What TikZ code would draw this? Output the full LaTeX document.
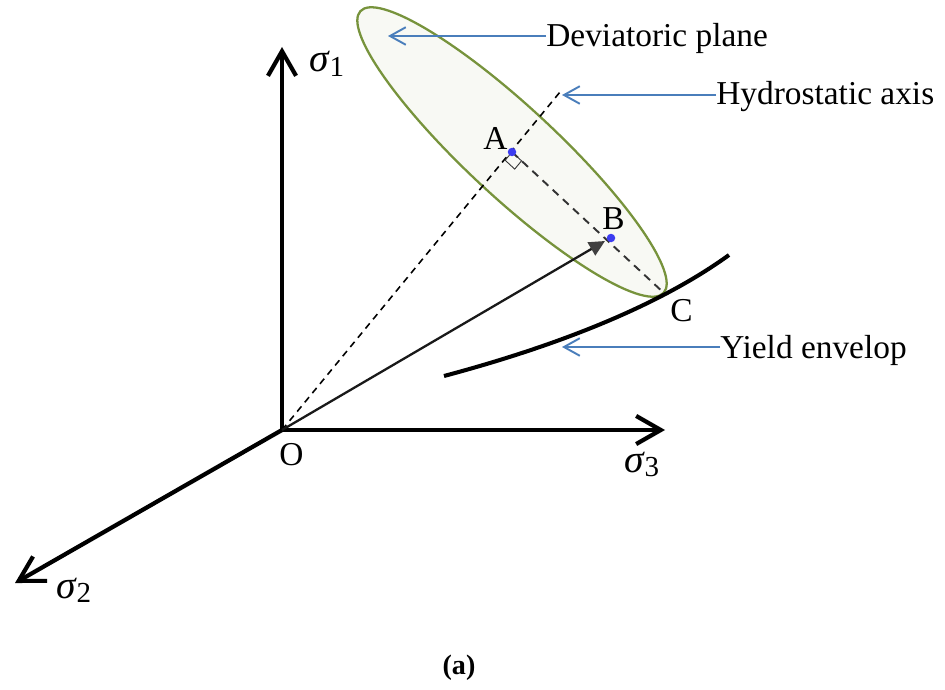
\documentclass[tikz,border=0pt]{standalone}
\usepackage{fontspec}
\setmainfont{Liberation Serif}
\usetikzlibrary{arrows.meta,calc}
\definecolor{leaderblue}{RGB}{74,126,187}
\definecolor{planegreen}{RGB}{119,147,60}
\definecolor{planefill}{RGB}{248,249,244}
\definecolor{ptblue}{RGB}{60,60,240}
\definecolor{vecgray}{RGB}{64,64,64}
\newcommand\sigmalabel[1]{{\fontsize{22.5}{24}\selectfont\itshape σ}\kern0.5pt\raisebox{-0.55ex}{\fontsize{16.5}{18}\selectfont #1}}
\begin{document}
\begin{tikzpicture}[x=0.02cm,y=-0.02cm,
  axisline/.style={line width=2.4pt,line cap=butt,-{Straight Barb[length=14pt,width=16pt,line width=2.4pt]}},
  leader/.style={leaderblue,line width=1.1pt,-{Straight Barb[length=9pt,width=10pt,line width=1.1pt]}},
  lbl/.style={inner sep=0pt,anchor=base west,font=\fontsize{19}{22}\selectfont},
  pt/.style={circle,fill=ptblue,inner sep=0pt,minimum size=8.5*0.02cm},
  hydro/.style={line width=0.9pt,dash pattern=on 3.8pt off 3pt},
  devline/.style={line width=1.1pt,black!80,dash pattern=on 4.5pt off 3.4pt},
]
\useasboundingbox (0,0) rectangle (945,689);
% key points
\coordinate (O) at (282,430);
\coordinate (A) at (512,152);
\coordinate (B) at (611,238);
\coordinate (C) at (665,294);
\coordinate (s1tip) at (282,47);
\coordinate (s2tip) at (15,583);
\coordinate (s3tip) at (665,430);
\coordinate (Htop) at (560,92);
\coordinate (Btip) at (605,241);
% deviatoric plane
\draw[planegreen,fill=planefill,line width=1.3pt,shift={(A)},rotate=-42.9] (0,0) ellipse [x radius=4.14cm,y radius=0.9cm];
% axes
\draw[axisline] (O) -- (s1tip);
\draw[axisline] (O) -- (s3tip);
\draw[axisline] (O) -- (s2tip);
% hydrostatic axis
\draw[hydro] (O) -- (Htop);
% A to C
\draw[devline] (A) -- (C);
% right angle mark
\coordinate (ra1) at ($(A)!13/208.7!(C)$);
\coordinate (ra3) at ($(A)!13/437.6!(O)$);
\coordinate (ra2) at ($(ra1)+(ra3)-(A)$);
\draw[line width=0.5pt,black!80] (A) -- (ra1) -- (ra2) -- (ra3) -- cycle;
% stress vector
\draw[line width=1.3pt,black!90,-{Triangle[length=9pt,width=8.5pt,fill=vecgray,color=vecgray]}] (O) -- (Btip);
% yield envelope
\draw[line width=2.3pt] (444,376) coordinate (Ys) .. controls (560,345) and (660,305) .. (729,255) coordinate (Ye);
% points
\node[pt] (Apt) at (A) {};
\node[pt] (Bpt) at (B) {};
% labels
\node[lbl] (Alab) at (483,150) {A};
\node[lbl] (Blab) at (602,229) {B};
\node[lbl] (Clab) at (670,321) {C};
\node[lbl] (Olab) at (279,465) {O};
\node[inner sep=0pt,anchor=base west] (s1lab) at (309,72) {\sigmalabel{1}};
\node[inner sep=0pt,anchor=base west] (s3lab) at (624,472) {\sigmalabel{3}};
\node[inner sep=0pt,anchor=base west] (s2lab) at (56,598) {\sigmalabel{2}};
% leaders
\node[lbl] (devtext) at (546,47) {Deviatoric plane};
\coordinate (devtip) at (388,36);
\draw[leader] (devtext.west |- devtip) -- (devtip);
\node[lbl] (hydtext) at (716,105) {Hydrostatic axis};
\coordinate (hydtip) at (562,95);
\draw[leader] (hydtext.west |- hydtip) -- (hydtip);
\node[lbl] (yldtext) at (720,358) {Yield envelop};
\coordinate (yldtip) at (562,347);
\draw[leader] (yldtext.west |- yldtip) -- (yldtip);
% caption
\node[inner sep=0pt,font=\fontsize{16}{19}\selectfont\bfseries] (cap) at (459,668) {(a)};
\end{tikzpicture}
\end{document}
